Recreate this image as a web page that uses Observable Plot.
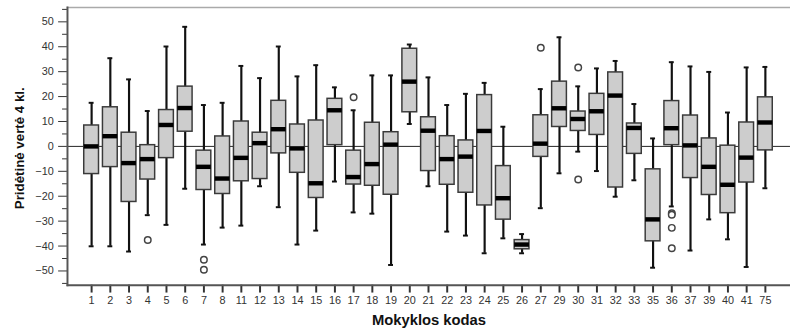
<!DOCTYPE html>
<html>
<head>
<meta charset="utf-8">
<script src="https://cdn.jsdelivr.net/npm/d3@7"></script>
<script src="https://cdn.jsdelivr.net/npm/@observablehq/plot@0.6"></script>
<style>
  html, body { margin: 0; padding: 0; background: #fff; overflow: hidden; width: 790px; height: 336px; }
  #chart svg { display: block; }
</style>
</head>
<body>
<div id="chart"></div>
<script>
const categories = ["1","2","3","4","5","6","7","8","11","12","13","14","15","16","17","18","19","20","21","22","23","24","25","26","27","29","30","31","32","33","35","36","37","39","40","41","75"];
const whiskerLow  = [-40.1,-40.1,-42.2,-27.6,-31.5,-17.0,-39.4,-32.6,-31.8,-16.0,-24.4,-39.4,-33.8,-14.1,-26.5,-27.0,-47.6, 9.0,-16.0,-34.2,-35.8,-42.9,-36.9,-42.9,-24.8,-10.8,-2.1,-9.9,-20.2,-13.6,-48.7,-24.1,-41.8,-29.3,-37.3,-48.4,-16.8];
const q1          = [-11.1, -8.3,-22.3,-13.3, -4.7,  5.9,-17.5,-19.1,-14.0,-13.1, -2.8,-10.6,-20.7,  0.5,-15.3,-15.8,-19.4,13.7, -9.9,-15.4,-18.6,-23.7,-29.4,-41.3, -4.2,  7.8, 6.2, 4.6,-16.5, -3.0,-38.1,  0.5,-12.7,-19.5,-26.8,-14.5, -1.6];
const medians     = [  0.0,  4.1, -6.7, -5.1,  8.6, 15.4, -8.2,-12.9, -4.6,  1.3,  6.9, -0.8,-14.8, 14.5,-12.3, -7.1,  0.7,26.0,  6.3, -5.1, -4.1,  6.2,-20.8,-39.4,  1.1, 15.3,11.0,14.1, 20.4,  7.4,-29.3,  7.3,  0.4, -8.2,-15.4, -4.5,  9.6];
const q3          = [  8.4, 15.7,  5.5,  0.5, 14.6, 24.0, -1.7,  4.0, 10.0,  5.5, 18.3,  8.8, 10.4, 19.1, -1.7,  9.5,  5.7,39.2, 11.7,  4.1,  2.4, 20.6, -7.9,-37.6, 12.5, 26.0,14.0,21.1, 29.7,  9.2, -9.2, 18.2, 12.4,  3.2,  0.3,  9.6, 19.7];
const whiskerHigh = [ 17.5, 35.4, 26.9, 14.2, 40.1, 48.0, 16.6, 17.5, 32.3, 27.4, 40.1, 28.1, 32.6, 23.7, 14.5, 28.5, 28.5,40.9, 27.7, 16.6, 21.1, 25.5,  7.9,-35.2, 23.0, 43.8,24.1,31.3, 34.3, 17.0,  3.2, 33.8, 32.1, 29.9, 13.6, 31.7, 31.9];
const outlierCats = ["4","7","7","17","27","30","30","36","36","36","36"];
const outlierVals = [-37.6,-45.5,-49.5,19.7,39.6,31.7,-13.3,-26.8,-27.4,-32.7,-40.9];
const yTicks = [-50,-40,-30,-20,-10,0,10,20,30,40,50];
const yMinorTicks = [-55,-45,-35,-25,-15,-5,5,15,25,35,45,55];
const yTitle = "Pridėtinė vertė 4 kl.";
const xTitle = "Mokyklos kodas";

const boxes = categories.map((c, i) => ({cat: c, lo: whiskerLow[i], q1: q1[i], med: medians[i], q3: q3[i], hi: whiskerHigh[i]}));
const outliers = outlierCats.map((c, i) => ({cat: c, v: outlierVals[i]}));

const chart = Plot.plot({
  width: 802,
  height: 336,
  marginLeft: 68,
  marginRight: 0,
  marginTop: 7,
  marginBottom: 47,
  style: {fontFamily: "'Liberation Sans', Arial, sans-serif", fontSize: "11px", color: "#333", background: "white"},
  x: {type: "band", domain: categories, paddingInner: 0.2, paddingOuter: 0.48, label: null},
  y: {domain: [-55.7, 55.8], label: null},
  marks: [
    Plot.frame({anchor: "top", stroke: "#aaa", strokeWidth: 1.5}),
    Plot.ruleY([0], {stroke: "#222", strokeWidth: 1}),
    Plot.ruleX(boxes, {x: "cat", y1: "lo", y2: "hi", stroke: "#111", strokeWidth: 2.2}),
    Plot.tickY(boxes, {x: "cat", y: "hi", stroke: "#111", strokeWidth: 2, inset: 5}),
    Plot.tickY(boxes, {x: "cat", y: "lo", stroke: "#111", strokeWidth: 2, inset: 5}),
    Plot.barY(boxes, {x: "cat", y1: "q1", y2: "q3", fill: "#cdcdcd", stroke: "#3a3a3a", strokeWidth: 1.5}),
    Plot.tickY(boxes, {x: "cat", y: "med", stroke: "#000", strokeWidth: 4.5}),
    Plot.dot(outliers, {x: "cat", y: "v", r: 3.3, stroke: "#444", strokeWidth: 1.5, fill: "white"}),
    Plot.axisY({ticks: yTicks, tickSize: 9, tickPadding: 5, stroke: "#333", fill: "#333", fontSize: 11, label: null}),
    Plot.axisY({ticks: yMinorTicks, tickSize: 5, tickFormat: () => "", stroke: "#333", label: null}),
    Plot.axisX({tickSize: 8, tickPadding: 3, stroke: "#333", strokeWidth: 2, fill: "#333", fontSize: 11, label: null}),
    Plot.frame({anchor: "left", stroke: "#555", strokeWidth: 2}),
    Plot.frame({anchor: "bottom", stroke: "#555", strokeWidth: 2}),
    Plot.text([yTitle], {frameAnchor: "left", textAnchor: "middle", dx: -48, dy: 2, rotate: -90, fontWeight: "bold", fontSize: 13.5, fill: "#111"}),
    Plot.text([xTitle], {frameAnchor: "bottom", textAnchor: "middle", dy: 40, fontWeight: "bold", fontSize: 15, fill: "#111"})
  ]
});
document.getElementById("chart").appendChild(chart);
</script>
</body>
</html>
